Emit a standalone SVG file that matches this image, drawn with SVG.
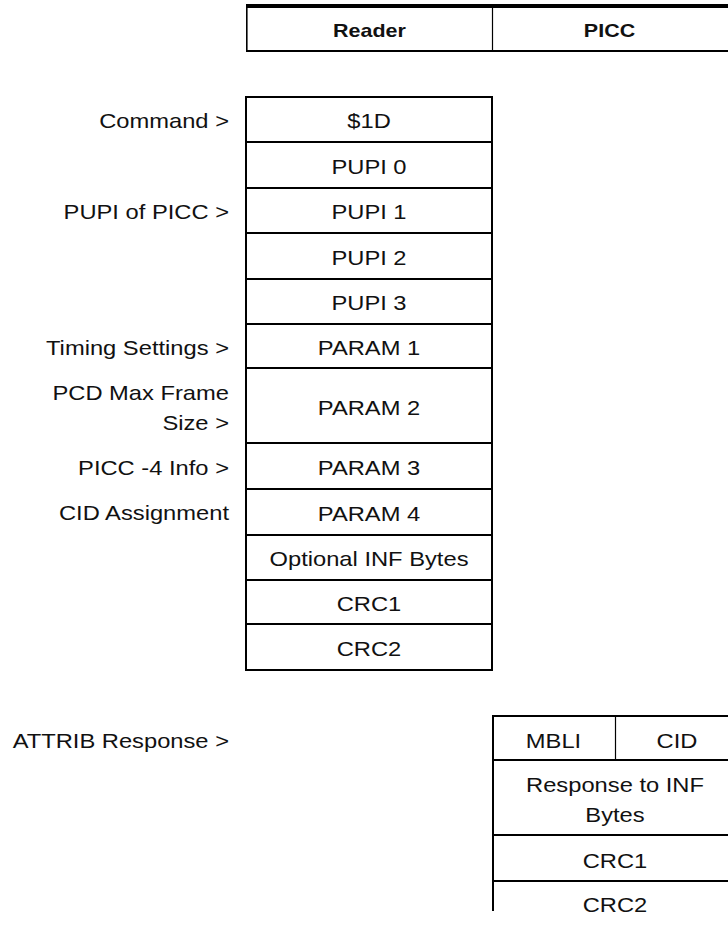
<svg xmlns="http://www.w3.org/2000/svg" width="728" height="925" viewBox="0 0 728 925">
  <style>
    text { font-family: "Liberation Sans", Arial, Helvetica, sans-serif; font-size: 21px; fill: #111; }
    .c { text-anchor: middle; }
    .r { text-anchor: end; }
    .hd { font-weight: bold; font-size: 19px; }
    .cell { fill: #fff; stroke: #000; stroke-width: 2; }
    .thin { stroke: #000; stroke-width: 1.2; fill: none; }
  </style>

  <!-- Column header: Reader / PICC -->
  <g id="header">
    <rect x="246.5" y="6" width="500" height="45" fill="#fff" stroke="none"/>
    <line x1="246" y1="6" x2="728" y2="6" stroke="#000" stroke-width="4"/>
    <line x1="246" y1="51" x2="728" y2="51" stroke="#000" stroke-width="2.2"/>
    <line x1="246.8" y1="4" x2="246.8" y2="52" stroke="#000" stroke-width="1.6"/>
    <line x1="492.5" y1="6" x2="492.5" y2="51" class="thin"/>
    <text class="c hd" transform="matrix(1.13 0 0 1 369.5 37)">Reader</text>
    <text class="c hd" transform="matrix(1.13 0 0 1 609.5 37)">PICC</text>
  </g>

  <!-- ATTRIB command frame sent by the reader -->
  <g id="cmd">
    <rect class="cell" x="246" y="97" width="246" height="45"/>
    <text class="c" transform="matrix(1.13 0 0 1 369 128)">$1D</text>
  </g>
  <g id="pupi0">
    <rect class="cell" x="246" y="142" width="246" height="46"/>
    <text class="c" transform="matrix(1.13 0 0 1 369 173.5)">PUPI 0</text>
  </g>
  <g id="pupi1">
    <rect class="cell" x="246" y="188" width="246" height="45"/>
    <text class="c" transform="matrix(1.13 0 0 1 369 218.5)">PUPI 1</text>
  </g>
  <g id="pupi2">
    <rect class="cell" x="246" y="233" width="246" height="46"/>
    <text class="c" transform="matrix(1.13 0 0 1 369 264.5)">PUPI 2</text>
  </g>
  <g id="pupi3">
    <rect class="cell" x="246" y="279" width="246" height="45"/>
    <text class="c" transform="matrix(1.13 0 0 1 369 310)">PUPI 3</text>
  </g>
  <g id="param1">
    <rect class="cell" x="246" y="324" width="246" height="44"/>
    <text class="c" transform="matrix(1.13 0 0 1 369 354.5)">PARAM 1</text>
  </g>
  <g id="param2">
    <rect class="cell" x="246" y="368" width="246" height="75"/>
    <text class="c" transform="matrix(1.13 0 0 1 369 414.5)">PARAM 2</text>
  </g>
  <g id="param3">
    <rect class="cell" x="246" y="443" width="246" height="46"/>
    <text class="c" transform="matrix(1.13 0 0 1 369 474.5)">PARAM 3</text>
  </g>
  <g id="param4">
    <rect class="cell" x="246" y="489" width="246" height="46"/>
    <text class="c" transform="matrix(1.13 0 0 1 369 520.5)">PARAM 4</text>
  </g>
  <g id="inf">
    <rect class="cell" x="246" y="535" width="246" height="45"/>
    <text class="c" transform="matrix(1.13 0 0 1 369 566)">Optional INF Bytes</text>
  </g>
  <g id="crc1">
    <rect class="cell" x="246" y="580" width="246" height="44"/>
    <text class="c" transform="matrix(1.13 0 0 1 369 610.5)">CRC1</text>
  </g>
  <g id="crc2">
    <rect class="cell" x="246" y="624" width="246" height="46"/>
    <text class="c" transform="matrix(1.13 0 0 1 369 656)">CRC2</text>
  </g>

  <!-- Field descriptions -->
  <g id="labels">
    <text class="r" transform="matrix(1.13 0 0 1 229 128)">Command &gt;</text>
    <text class="r" transform="matrix(1.13 0 0 1 229 219)">PUPI of PICC &gt;</text>
    <text class="r" transform="matrix(1.13 0 0 1 229 355)">Timing Settings &gt;</text>
    <text class="r" transform="matrix(1.13 0 0 1 229 400)">PCD Max Frame</text>
    <text class="r" transform="matrix(1.13 0 0 1 229 430)">Size &gt;</text>
    <text class="r" transform="matrix(1.13 0 0 1 229 475)">PICC -4 Info &gt;</text>
    <text class="r" transform="matrix(1.13 0 0 1 229 520)">CID Assignment</text>
    <text class="r" transform="matrix(1.13 0 0 1 229 748)">ATTRIB Response &gt;</text>
  </g>

  <!-- ATTRIB response frame returned by the PICC -->
  <g id="resp-mbli-cid">
    <rect class="cell" x="493" y="716" width="250" height="44"/>
    <line x1="615.5" y1="716" x2="615.5" y2="760" class="thin"/>
    <text class="c" transform="matrix(1.13 0 0 1 553.5 748)">MBLI</text>
    <text class="c" transform="matrix(1.13 0 0 1 677 748)">CID</text>
  </g>
  <g id="resp-inf">
    <rect class="cell" x="493" y="760" width="250" height="75"/>
    <text class="c" transform="matrix(1.13 0 0 1 615 792)">Response to INF</text>
    <text class="c" transform="matrix(1.13 0 0 1 615 822)">Bytes</text>
  </g>
  <g id="resp-crc1">
    <rect class="cell" x="493" y="835" width="250" height="46"/>
    <text class="c" transform="matrix(1.13 0 0 1 615 867.5)">CRC1</text>
  </g>
  <g id="resp-crc2">
    <line x1="493" y1="881" x2="728" y2="881" stroke="#000" stroke-width="2"/>
    <line x1="493" y1="881" x2="493" y2="911" stroke="#000" stroke-width="2"/>
    <text class="c" transform="matrix(1.13 0 0 1 615 912)">CRC2</text>
  </g>
</svg>
